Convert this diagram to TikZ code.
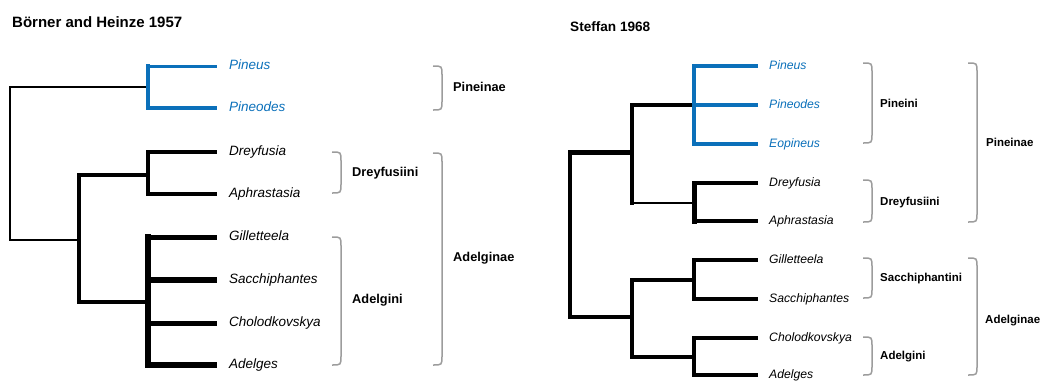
\documentclass[tikz,border=0pt]{standalone}
\usepackage{fontspec}
\setmainfont{Liberation Sans}
\definecolor{treeblue}{HTML}{0B70BA}
\definecolor{brkgray}{HTML}{9C9C9C}
\begin{document}
\begin{tikzpicture}[x=1pt,y=-1pt,
  vk/.style={draw=black,line width=#1,line cap=rect},
  hk/.style={draw=black,line width=#1},
  vb/.style={draw=treeblue,line width=#1,line cap=rect},
  hb/.style={draw=treeblue,line width=#1},
  brk/.style={draw=brkgray,line width=1.5pt},
  tipL/.style={anchor=west,inner xsep=12pt,inner ysep=0pt,text height=1.6ex,text depth=0.2ex,font=\fontsize{13.5}{15}\selectfont\itshape},
  tipR/.style={anchor=west,inner xsep=11pt,inner ysep=0pt,text height=1.6ex,text depth=0.2ex,font=\fontsize{12.2}{14}\selectfont\itshape},
  grpL/.style={anchor=west,inner sep=0pt,text height=1.6ex,text depth=0.2ex,font=\fontsize{12.8}{14}\selectfont\bfseries},
  grpR/.style={anchor=west,inner sep=0pt,text height=1.6ex,text depth=0.2ex,font=\fontsize{11.5}{13}\selectfont\bfseries},
  ttl/.style={anchor=west,inner sep=0pt,font=\bfseries}]
\useasboundingbox (0,0) rectangle (1042,381);
\newcommand\gbracket[3]{\draw[brk] (#1,#2) .. controls (#1+9,#2) .. (#1+9,#2+9) -- (#1+9,#3-9) .. controls (#1+9,#3) .. (#1,#3);}

% ---------- titles ----------
\node[ttl,font=\fontsize{15}{17}\selectfont\bfseries] (t1) at (12,22) {Börner and Heinze 1957};
\node[ttl,font=\fontsize{13.6}{15}\selectfont\bfseries] (t2) at (570,27) {Steffan 1968};

% ---------- left tree ----------
\node[tipL,text=treeblue] (lPin) at (217,66) {Pineus};
\node[tipL,text=treeblue] (lPid) at (217,108) {Pineodes};
\node[tipL] (lDre) at (217,152) {Dreyfusia};
\node[tipL] (lAph) at (217,194) {Aphrastasia};
\node[tipL] (lGil) at (217,237) {Gilletteela};
\node[tipL] (lSac) at (217,280) {Sacchiphantes};
\node[tipL] (lCho) at (217,323) {Cholodkovskya};
\node[tipL] (lAde) at (217,365) {Adelges};

\coordinate (LRt) at (10,87);   \coordinate (LRb) at (10,240);
\coordinate (LN1) at (79,240);  \coordinate (LN1t) at (79,175); \coordinate (LN1b) at (79,302);
\coordinate (LBm) at (148,87);
\coordinate (LDm) at (148,175);
\coordinate (LAm) at (148,302);

\draw[vk=2.6pt] (LRt) -- (LRb);
\draw[hk=2.6pt] (LRt) -- (LBm);
\draw[hk=2pt] (LRb) -- (LN1);
\draw[vk=4pt] (LN1t) -- (LN1b);
\draw[hk=3.4pt] (LN1t) -- (LDm);
\draw[hk=3.4pt] (LN1b) -- (LAm);
% blue clade
\draw[vb=4pt] (LBm |- lPin) -- (LBm |- lPid);
\draw[hb=3pt] (LBm |- lPin) -- (lPin.west);
\draw[hb=4.4pt] (LBm |- lPid) -- (lPid.west);
% Dreyfusia clade
\draw[vk=3.4pt] (LDm |- lDre) -- (LDm |- lAph);
\draw[hk=3.4pt] (LDm |- lDre) -- (lDre.west);
\draw[hk=3.4pt] (LDm |- lAph) -- (lAph.west);
% Adelgini clade
\draw[vk=6.5pt] (LAm |- lGil) -- (LAm |- lAde);
\draw[hk=5pt] (LAm |- lGil) -- (lGil.west);
\draw[hk=6pt] (LAm |- lSac) -- (lSac.west);
\draw[hk=5pt] (LAm |- lCho) -- (lCho.west);
\draw[hk=6.5pt] (LAm |- lAde) -- (lAde.west);

% left brackets
\gbracket{433}{66}{110}
\node[grpL] (gPineinaeL) at (453,88) {Pineinae};
\gbracket{332}{152}{193}
\node[grpL] (gDreyL) at (352,173) {Dreyfusiini};
\gbracket{332}{237}{365}
\node[grpL] (gAdelgL) at (352,300) {Adelgini};
\gbracket{433}{153}{365}
\node[grpL] (gAdelgnL) at (453,258) {Adelginae};

% ---------- right tree ----------
\node[tipR,text=treeblue] (rPin) at (758,66) {Pineus};
\node[tipR,text=treeblue] (rPid) at (758,105) {Pineodes};
\node[tipR,text=treeblue] (rEop) at (758,144) {Eopineus};
\node[tipR] (rDre) at (758,183) {Dreyfusia};
\node[tipR] (rAph) at (758,221) {Aphrastasia};
\node[tipR] (rGil) at (758,260) {Gilletteela};
\node[tipR] (rSac) at (758,299) {Sacchiphantes};
\node[tipR] (rCho) at (758,338) {Cholodkovskya};
\node[tipR] (rAde) at (758,375) {Adelges};

\coordinate (RRt) at (570,152); \coordinate (RRb) at (570,317);
\coordinate (RUt) at (632,105); \coordinate (RUb) at (632,203); \coordinate (RUm) at (632,152);
\coordinate (RLt) at (632,280); \coordinate (RLb) at (632,357); \coordinate (RLm) at (632,317);
\coordinate (RBm) at (694,105);
\coordinate (RDm) at (694,203);
\coordinate (RGm) at (694,280);
\coordinate (RCm) at (694,357);

\draw[vk=4.4pt] (RRt) -- (RRb);
\draw[hk=5pt] (RRt) -- (RUm);
\draw[hk=3.8pt] (RRb) -- (RLm);
\draw[vk=4pt] (RUt) -- (RUb);
\draw[hk=4.2pt] (RUt) -- (RBm);
\draw[hk=2.6pt] (RUb) -- (RDm);
\draw[vk=4pt] (RLt) -- (RLb);
\draw[hk=3.8pt] (RLt) -- (RGm);
\draw[hk=3.8pt] (RLb) -- (RCm);
% blue clade
\draw[vb=3.2pt] (RBm |- rPin) -- (RBm |- rEop);
\draw[hb=3.2pt] (RBm |- rPin) -- (rPin.west);
\draw[hb=4.6pt] (RBm |- rPid) -- (rPid.west);
\draw[hb=3.2pt] (RBm |- rEop) -- (rEop.west);
% Dreyfusia clade
\draw[vk=5pt] (RDm |- rDre) -- (RDm |- rAph);
\draw[hk=4.4pt] (RDm |- rDre) -- (rDre.west);
\draw[hk=4.4pt] (RDm |- rAph) -- (rAph.west);
% Gilletteela clade
\draw[vk=3.8pt] (RGm |- rGil) -- (RGm |- rSac);
\draw[hk=3.2pt] (RGm |- rGil) -- (rGil.west);
\draw[hk=3.2pt] (RGm |- rSac) -- (rSac.west);
% Cholodkovskya clade
\draw[vk=3.8pt] (RCm |- rCho) -- (RCm |- rAde);
\draw[hk=3.2pt] (RCm |- rCho) -- (rCho.west);
\draw[hk=3.2pt] (RCm |- rAde) -- (rAde.west);

% right brackets
\gbracket{863}{63}{143}
\node[grpR] (gPineini) at (880,104) {Pineini};
\gbracket{863}{180}{222}
\node[grpR] (gDreyR) at (880,202) {Dreyfusiini};
\gbracket{968}{63}{222}
\node[grpR] (gPineinaeR) at (986,143) {Pineinae};
\gbracket{863}{258}{298}
\node[grpR] (gSacch) at (880,278) {Sacchiphantini};
\gbracket{863}{337}{375}
\node[grpR] (gAdelgR) at (880,356) {Adelgini};
\gbracket{968}{258}{375}
\node[grpR] (gAdelgnR) at (985,320) {Adelginae};
\end{tikzpicture}
\end{document}
